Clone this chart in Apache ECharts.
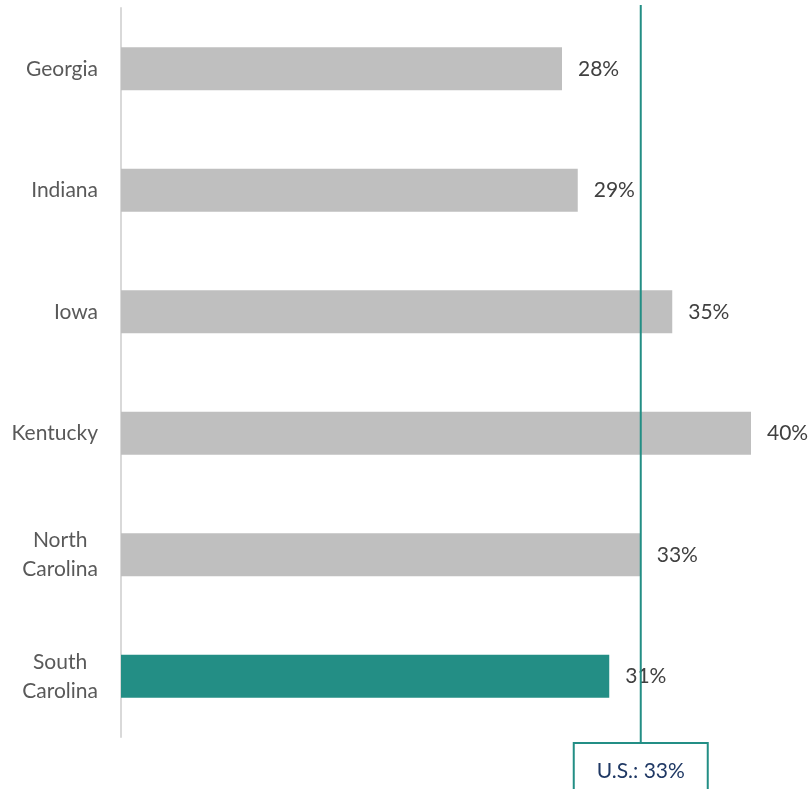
<!DOCTYPE html>
<html>
<head>
<meta charset="utf-8">
<script src="https://cdn.jsdelivr.net/npm/echarts@6/dist/echarts.min.js"></script>
<style>
  html, body { margin: 0; padding: 0; background: #fff; }
  #chart { width: 810px; height: 789px; }
</style>
</head>
<body>
<div id="chart"></div>
<script>
// State shares (percent) compared with the national figure
const states = ['Georgia', 'Indiana', 'Iowa', 'Kentucky', 'North Carolina', 'South Carolina'];
const shares = [28, 29, 35, 40, 33, 31];
const highlightState = 'South Carolina';
const usShare = 33;
const usLabel = 'U.S.: ' + usShare + '%';

const FONT = 'Lato';
const FS = 21;
const GRAY = '#BFBFBF';
const TEAL = '#238E85';

const chart = echarts.init(document.getElementById('chart'), null, { renderer: 'canvas' });

chart.setOption({
  animation: false,
  grid: { left: 121, right: 59, top: 8, bottom: 52 },
  xAxis: {
    type: 'value', min: 0, max: 40,
    show: false
  },
  yAxis: {
    type: 'category',
    inverse: true,
    data: states,
    axisLine: { show: true, lineStyle: { color: '#D9D9D9', width: 2 } },
    axisTick: { show: false },
    axisLabel: {
      margin: 23,
      fontFamily: FONT,
      fontSize: FS,
      color: '#595959',
      lineHeight: 29,
      formatter: function (v) {
        return v.split(' ').map(function (w) { return '{a|' + w + '}'; }).join('\n');
      },
      rich: { a: { align: 'center', fontFamily: FONT, fontSize: FS, color: '#595959', lineHeight: 29 } }
    }
  },
  series: [{
    type: 'bar',
    barWidth: '35.5%',
    data: states.map(function (s, i) {
      return { value: shares[i], itemStyle: { color: s === highlightState ? TEAL : GRAY } };
    }),
    label: {
      show: true,
      position: 'right',
      distance: 16,
      fontFamily: FONT,
      fontSize: FS,
      color: '#404040',
      formatter: '{c}%'
    },
    z: 2
  }]
});

// National reference line with its boxed caption below the plot
const ux = chart.convertToPixel({ xAxisIndex: 0 }, usShare);
const boxW = 134;
chart.setOption({
  graphic: [
    {
      type: 'line', z: 100,
      shape: { x1: ux, y1: 5, x2: ux, y2: 743 },
      style: { stroke: TEAL, lineWidth: 2 }
    },
    {
      type: 'rect', z: 100,
      shape: { x: ux - boxW / 2, y: 743, width: boxW, height: 60 },
      style: { fill: '#fff', stroke: TEAL, lineWidth: 2 }
    },
    {
      type: 'text', z: 101,
      x: ux, y: 771,
      style: {
        text: usLabel, fontFamily: FONT, fontSize: FS, fill: '#1F3864',
        align: 'center', verticalAlign: 'middle'
      }
    }
  ]
});
</script>
</body>
</html>
